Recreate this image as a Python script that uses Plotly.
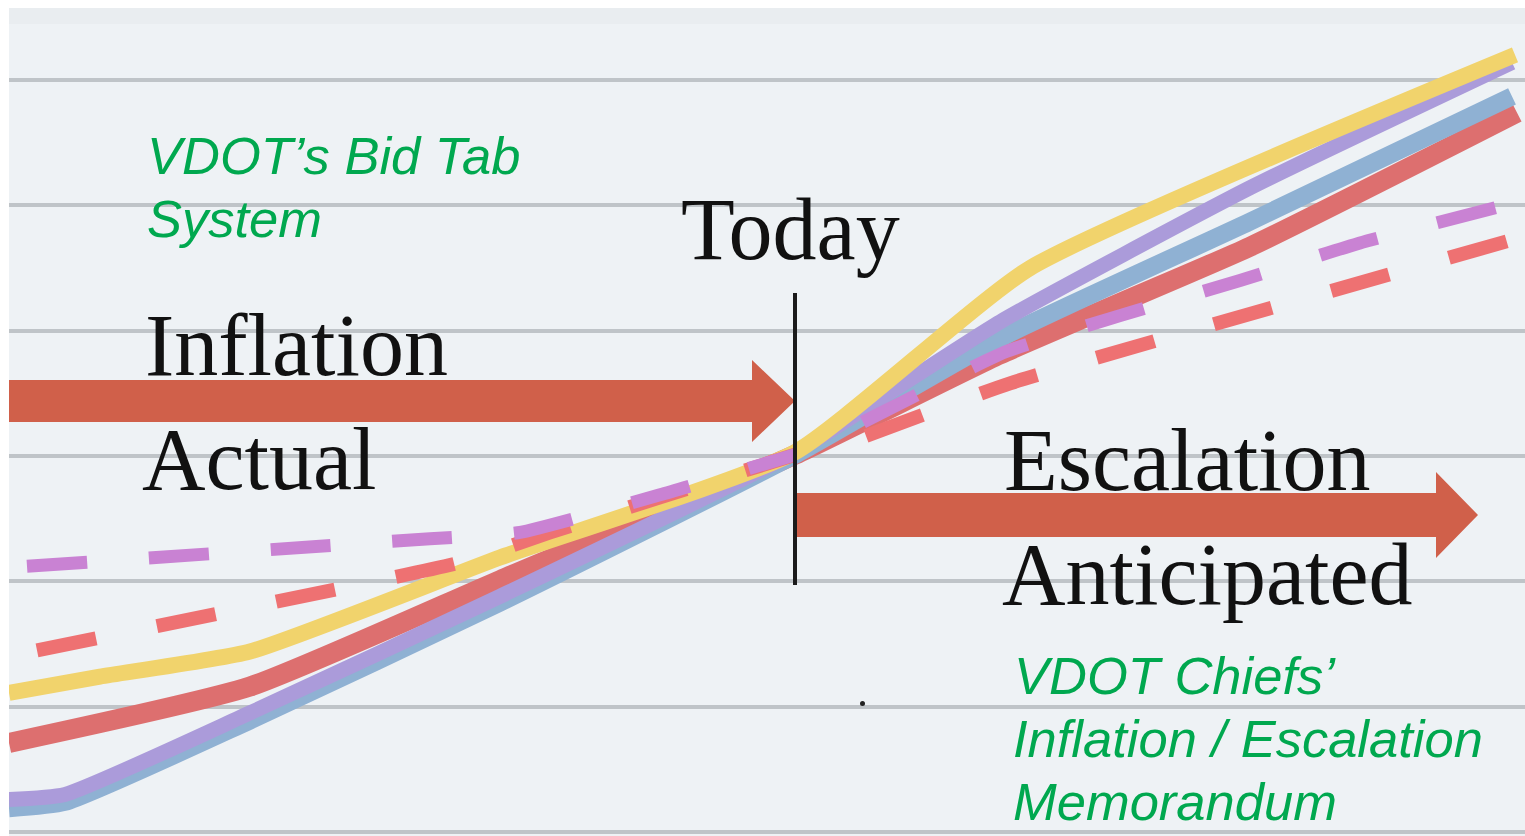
import plotly.graph_objects as go

# ---------------- data (x = period index, y = relative cost index) ----------------
x_yellow = [0.00, 0.91, 2.41, 4.91, 7.86, 10.21, 15.06]
y_yellow = [1.11, 1.24, 1.44, 2.19, 3.03, 4.50, 6.20]

x_purple = [0.00, 0.56, 2.41, 4.91, 7.86, 9.91, 12.41, 15.03]
y_purple = [0.26, 0.30, 0.95, 1.88, 3.03, 4.07, 5.14, 6.14]

x_blue = [0.00, 0.56, 2.41, 4.91, 7.86, 9.91, 12.41, 15.03]
y_blue = [0.19, 0.24, 0.89, 1.83, 3.01, 3.94, 4.87, 5.87]

x_red = [0.00, 2.41, 4.91, 7.86, 9.91, 12.41, 15.08]
y_red = [0.71, 1.16, 2.01, 3.01, 3.81, 4.67, 5.74]

# dashed forecasts: actual part and anticipated part
x_red_dash_act = [0.28, 4.51, 5.41, 6.51, 7.86]
y_red_dash_act = [1.45, 2.15, 2.39, 2.67, 3.01]
x_red_dash_ant = [8.57, 10.01, 15.01]
y_red_dash_ant = [3.16, 3.58, 4.72]

x_pur_dash_act = [0.18, 4.21, 5.11, 6.51, 7.86]
y_pur_dash_act = [2.12, 2.34, 2.39, 2.69, 3.01]
x_pur_dash_ant = [8.54, 9.96, 11.11, 12.31, 13.51, 14.96]
y_pur_dash_ant = [3.27, 3.83, 4.12, 4.40, 4.70, 5.00]

TODAY = 7.86

# ---------------- helpers for decoration placement (page pixels -> axis units) ----------------
def X(px):
    return (px - 9) / 100.0

def Y(py):
    return (832 - py) / 125.33

C_YELLOW = "#f1d36c"
C_PURPLE = "#ab9bda"
C_BLUE = "#8fb1d3"
C_RED = "#dd6f6f"
C_RED_DASH = "#ee7172"
C_PUR_DASH = "#c982d3"
C_ARROW = "#d0604a"
GREEN = "#00a84f"

fig = go.Figure()

def solid(x, y, color, w):
    fig.add_trace(go.Scatter(x=x, y=y, mode="lines",
                             line=dict(color=color, width=w, shape="spline", smoothing=0.5),
                             hoverinfo="skip", showlegend=False))

def dashed(x, y, color, w):
    fig.add_trace(go.Scatter(x=x, y=y, mode="lines",
                             line=dict(color=color, width=w, dash="60px,62px",
                                       shape="spline", smoothing=0.4),
                             hoverinfo="skip", showlegend=False))

solid(x_red, y_red, C_RED, 20)
solid(x_blue, y_blue, C_BLUE, 18)
solid(x_purple, y_purple, C_PURPLE, 15)
solid(x_yellow, y_yellow, C_YELLOW, 16)
dashed(x_red_dash_act, y_red_dash_act, C_RED_DASH, 14)
dashed(x_red_dash_ant, y_red_dash_ant, C_RED_DASH, 14)
dashed(x_pur_dash_act, y_pur_dash_act, C_PUR_DASH, 13)
dashed(x_pur_dash_ant, y_pur_dash_ant, C_PUR_DASH, 13)

shapes = []
# faint top band
shapes.append(dict(type="rect", xref="paper", yref="y", x0=0, x1=1,
                   y0=Y(24), y1=Y(8), fillcolor="#e9edf0", line=dict(width=0),
                   layer="below"))

def arrow_path(x0, xh, xt, yc, half_shaft, half_head):
    pts = [(x0, yc - half_shaft), (xh, yc - half_shaft), (xh, yc - half_head),
           (xt, yc), (xh, yc + half_head), (xh, yc + half_shaft), (x0, yc + half_shaft)]
    return "M " + " L ".join(f"{X(a):.4f},{Y(b):.4f}" for a, b in pts) + " Z"

shapes.append(dict(type="path", xref="x", yref="y",
                   path=arrow_path(0, 752, 795, 401, 21, 41),
                   fillcolor=C_ARROW, line=dict(width=0)))
shapes.append(dict(type="path", xref="x", yref="y",
                   path=arrow_path(795, 1436, 1478, 515, 22, 43),
                   fillcolor=C_ARROW, line=dict(width=0)))
# today line
shapes.append(dict(type="line", xref="x", yref="y", x0=TODAY, x1=TODAY,
                   y0=Y(585), y1=Y(293), line=dict(color="#1b1b1b", width=4)))
# small dot
shapes.append(dict(type="circle", xref="x", yref="y",
                   x0=X(860), x1=X(865), y0=Y(706), y1=Y(701),
                   fillcolor="#222222", line=dict(width=0)))

annotations = []

def serif(text, px, py):
    annotations.append(dict(text=text, x=X(px), y=Y(py), xref="x", yref="y",
                            xanchor="left", yanchor="middle", showarrow=False,
                            font=dict(family="Liberation Serif, Times New Roman, serif",
                                      size=88, color="#111111")))

def green(text, px, py):
    annotations.append(dict(text="<i>" + text + "</i>", x=X(px), y=Y(py),
                            xref="x", yref="y", xanchor="left", yanchor="middle",
                            showarrow=False,
                            font=dict(family="Liberation Sans, Arial, sans-serif",
                                      size=52.5, color=GREEN)))

serif("Today", 679, 229)
serif("Inflation", 143, 345)
serif("Actual", 140, 459)
serif("Escalation", 1002, 460)
serif("Anticipated", 1000, 574)

green("VDOT’s Bid Tab", 145, 155)
green("System", 145, 218)
green("VDOT Chiefs’", 1012, 675)
green("Inflation / Escalation", 1011, 738)
green("Memorandum", 1011, 801)

fig.update_layout(
    width=1525, height=836, autosize=False,
    margin=dict(l=9, r=0, t=8, b=0, pad=0),
    paper_bgcolor="white", plot_bgcolor="#eef2f5",
    showlegend=False, hovermode=False,
    shapes=shapes, annotations=annotations,
    xaxis=dict(range=[0, 15.16], showgrid=False, zeroline=False,
               showticklabels=False, showline=False, fixedrange=True),
    yaxis=dict(range=[Y(836), Y(8)], showgrid=True, gridcolor="#bfc4c8",
               gridwidth=4, dtick=1, tick0=0, zeroline=True,
               zerolinecolor="#bfc4c8", zerolinewidth=4,
               showticklabels=False, showline=False, fixedrange=True),
)

fig.write_html("out.html", config=dict(displayModeBar=False, staticPlot=True),
               post_script="document.body.style.margin='0';"
                           "document.body.style.overflow='hidden';")
